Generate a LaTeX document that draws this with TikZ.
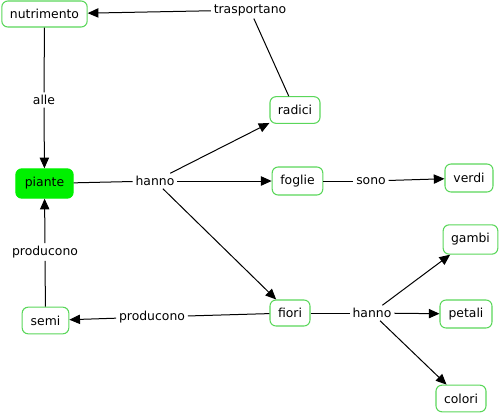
\documentclass[tikz,border=0pt]{standalone}
\usepackage{fontspec}
\setmainfont{DejaVu Sans}
\usetikzlibrary{arrows.meta}
\definecolor{boxgreen}{RGB}{90,215,90}
\definecolor{fillgreen}{RGB}{0,240,0}
\tikzset{
  concept/.style={draw=boxgreen, line width=0.8pt, rounded corners=4.5pt, fill=white,
    inner sep=0pt, font=\fontsize{9.3}{11}\selectfont, text=black},
  linkword/.style={inner sep=2pt, font=\fontsize{9.3}{11}\selectfont, text=black},
  conn/.style={line width=0.75pt, black},
  arr/.style={conn, -{Triangle[length=8pt,width=7pt]}},
}
\begin{document}
\begin{tikzpicture}[x=0.75pt,y=-0.75pt]
\useasboundingbox (0,0) rectangle (501,415);
% concepts
\node[concept, minimum width=64pt, minimum height=19.5pt] (nutr) at (44.5,14) {nutrimento};
\node[concept, minimum width=37.5pt, minimum height=20pt] (radici) at (295,110) {radici};
\node[concept, minimum width=43pt, minimum height=22pt, fill=fillgreen, draw=fillgreen] (piante) at (44.5,183.5) {piante};
\node[concept, minimum width=38pt, minimum height=21pt] (foglie) at (297.5,181) {foglie};
\node[concept, minimum width=36pt, minimum height=21pt] (verdi) at (469,178) {verdi};
\node[concept, minimum width=41pt, minimum height=22pt] (gambi) at (470.5,239.5) {gambi};
\node[concept, minimum width=30pt, minimum height=19.5pt] (fiori) at (290,313) {fiori};
\node[concept, minimum width=39pt, minimum height=21pt] (petali) at (466,314) {petali};
\node[concept, minimum width=37.5pt, minimum height=20pt] (colori) at (461,398.5) {colori};
\node[concept, minimum width=35pt, minimum height=20pt] (semi) at (45.5,320.5) {semi};
% linking words
\node[linkword] (trasp) at (250,10) {trasportano};
\node[linkword] (alle) at (44,100) {alle};
\node[linkword] (hanno1) at (155,181) {hanno};
\node[linkword] (sono) at (371,181) {sono};
\node[linkword] (hanno2) at (372,313) {hanno};
\node[linkword] (prod1) at (152,317) {producono};
\node[linkword] (prod2) at (45,252) {producono};
% connectors
\draw[conn] (radici) -- (trasp);
\draw[arr] (trasp) -- (nutr);
\draw[conn] (nutr) -- (alle);
\draw[arr] (alle) -- (piante);
\draw[conn] (piante) -- (hanno1);
\draw[arr] (hanno1) -- (radici);
\draw[arr] (hanno1) -- (foglie);
\draw[arr] (hanno1) -- (fiori);
\draw[conn] (foglie) -- (sono);
\draw[arr] (sono) -- (verdi);
\draw[conn] (fiori) -- (hanno2);
\draw[arr] (hanno2) -- (gambi);
\draw[arr] (hanno2) -- (petali);
\draw[arr] (hanno2) -- (colori);
\draw[conn] (fiori) -- (prod1);
\draw[arr] (prod1) -- (semi);
\draw[conn] (semi) -- (prod2);
\draw[arr] (prod2) -- (piante);
\end{tikzpicture}
\end{document}
